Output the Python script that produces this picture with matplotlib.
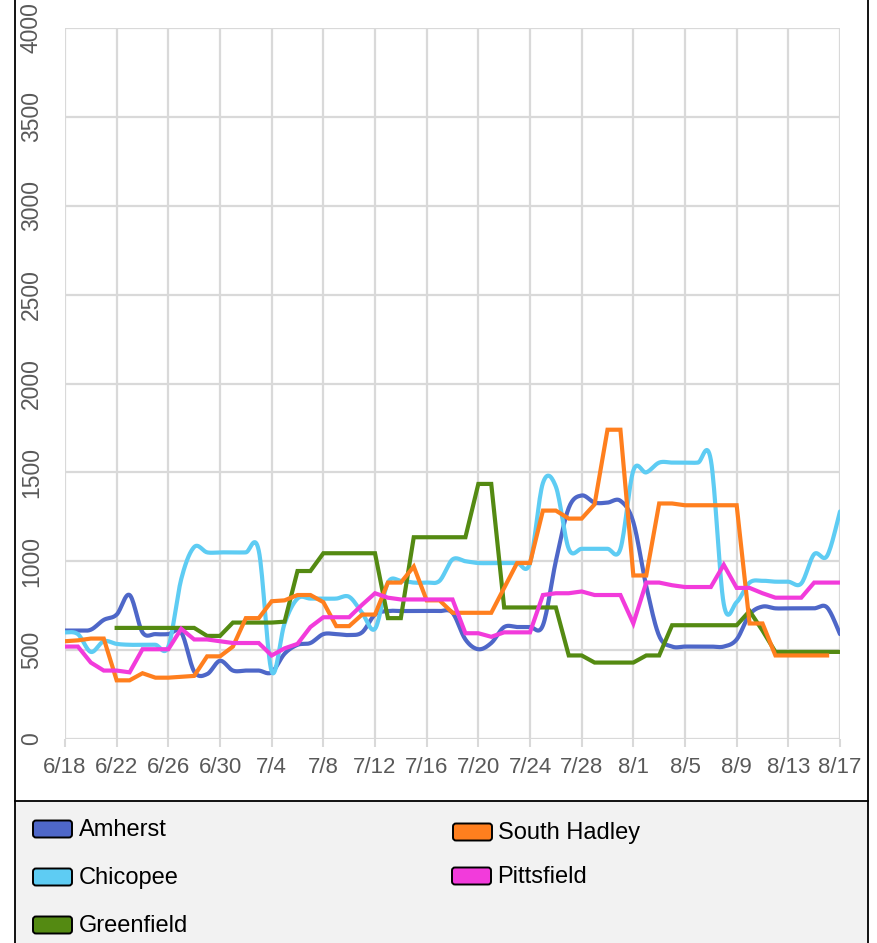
import numpy as np
import matplotlib.pyplot as plt
from matplotlib.patches import FancyBboxPatch, Rectangle
from matplotlib.lines import Line2D
from matplotlib.transforms import IdentityTransform

plt.rcParams['font.family'] = ['Liberation Sans', 'DejaVu Sans']

nan = np.nan
days = np.arange(61)  # 6/18 .. 8/17
tick_days = list(range(0, 61, 4))
tick_labels = ['6/18', '6/22', '6/26', '6/30', '7/4', '7/8', '7/12', '7/16',
               '7/20', '7/24', '7/28', '8/1', '8/5', '8/9', '8/13', '8/17']

amherst = [610, 610, 615, 670, 700, 810, 600, 590, 590, 600,
           380, 365, 440, 385, 385, 385, 375, 480, 530, 540,
           590, 590, 585, 600, 700, 720, 720, 720, 720, 720,
           710, 560, 505, 540, 630, 630, 630, 640, 1000, 1300,
           1370, 1330, 1330, 1340, 1220, 860, 580, 520, 520, 520,
           520, 520, 560, 700, 745, 735, 735, 735, 735, 740,
           590]
chicopee = [600, 590, 490, 550, 535, 530, 530, 530, 520, 900,
            1080, 1050, 1050, 1050, 1050, 1060, 380, 650, 790, 790,
            790, 790, 800, 710, 620, 880, 890, 880, 880, 890,
            1010, 1000, 990, 990, 990, 990, 990, 1440, 1420, 1070,
            1070, 1070, 1070, 1070, 1510, 1500, 1555, 1555, 1555, 1555,
            1570, 760, 770, 880, 890, 885, 885, 875, 1040, 1030,
            1280]
greenfield = ([nan] * 4 + [625] * 7 + [580] * 2 + [655, 655, 655, 655, 660]
              + [945] * 2 + [1045] * 5 + [680] * 2 + [1135] * 5 + [1435] * 2
              + [740] * 5 + [470] * 2 + [430] * 4 + [470] * 2 + [640] * 6
              + [720, 610] + [490] * 6)
south_hadley = [550, 555, 565, 565, 330, 330, 370, 345, 345, 350,
                355, 465, 465, 520, 680, 680, 775, 780, 810, 810,
                770, 635, 635, 700, 700, 880, 880, 970, 780, 780,
                710, 710, 710, 710, 850, 990, 990, 1285, 1285, 1240,
                1240, 1320, 1740, 1740, 920, 920, 1325, 1325, 1315, 1315,
                1315, 1315, 1315, 650, 650, 470, 470, 470, 470, 470,
                nan]
pittsfield = [520, 520, 430, 385, 385, 375, 505, 505, 505, 620,
              560, 560, 550, 540, 540, 540, 470, 510, 535, 630,
              685, 685, 685, 755, 820, 795, 785, 785, 785, 785,
              785, 595, 595, 575, 600, 600, 600, 810, 820, 820,
              830, 810, 810, 810, 650, 880, 880, 865, 855, 855,
              855, 980, 850, 850, 820, 795, 795, 795, 880, 880,
              880]

names = ['Amherst', 'Chicopee', 'Greenfield', 'South Hadley', 'Pittsfield']
colors = ['#4E67C8', '#5ECCF3', '#548A12', '#FF7F1E', '#F23BDB']
smooth_flags = [True, True, False, False, False]
series = [amherst, chicopee, greenfield, south_hadley, pittsfield]


def smooth(x, y, n=16):
    # Excel-like smoothed line: Catmull-Rom bezier between points
    x = np.asarray(x, float)
    y = np.asarray(y, float)
    xs, ys = [], []
    t = np.linspace(0, 1, n, endpoint=False)
    for i in range(len(x) - 1):
        i0, i3 = max(i - 1, 0), min(i + 2, len(x) - 1)
        p0, p1, p2, p3 = y[i0], y[i], y[i + 1], y[i3]
        q0, q1, q2, q3 = x[i0], x[i], x[i + 1], x[i3]
        c1, c2 = p1 + (p2 - p0) / 6, p2 - (p3 - p1) / 6
        d1, d2 = q1 + (q2 - q0) / 6, q2 - (q3 - q1) / 6
        b = [(1 - t) ** 3, 3 * (1 - t) ** 2 * t, 3 * (1 - t) * t ** 2, t ** 3]
        xs.append(b[0] * q1 + b[1] * d1 + b[2] * d2 + b[3] * q2)
        ys.append(b[0] * p1 + b[1] * c1 + b[2] * c2 + b[3] * p2)
    xs.append([x[-1]])
    ys.append([y[-1]])
    return np.concatenate(xs), np.concatenate(ys)


W, H = 877, 943
fig = plt.figure(figsize=(W / 100, H / 100), dpi=100)

# legend area background and frame
fig.patches.append(Rectangle((15 / W, 0), (868 - 15) / W, (H - 801) / H,
                             transform=fig.transFigure, facecolor='#f2f2f2',
                             edgecolor='none', zorder=0))
for xs_, ys_ in [([15.5 / W, 15.5 / W], [0, 1]), ([868 / W, 868 / W], [0, 1]),
                 ([15 / W, 868 / W], [1 - 801 / H, 1 - 801 / H])]:
    fig.lines.append(Line2D(xs_, ys_, transform=fig.transFigure,
                            color='black', lw=1.3))

ax = fig.add_axes([65 / W, 1 - 739 / H, 775 / W, 711 / H])

for vals, col, sm in zip(series, colors, smooth_flags):
    if sm:
        sx, sy = smooth(days, vals)
        ax.plot(sx, sy, color=col, lw=3.0, solid_capstyle='round')
    else:
        ax.plot(days, vals, color=col, lw=3.0, solid_joinstyle='miter')

ax.set_xlim(0, 60)
ax.set_ylim(0, 4000)
ax.set_xticks(tick_days)
ax.set_xticklabels(tick_labels)
ax.set_yticks(range(0, 4001, 500))
ax.grid(color='#d9d9d9', lw=1.6)
ax.set_axisbelow(True)
for s in ax.spines.values():
    s.set_visible(False)
ax.tick_params(axis='x', length=6, width=1.5, color='#d9d9d9', pad=7,
               labelsize=16, labelcolor='#595959')
ax.tick_params(axis='y', length=0, pad=16, labelsize=16.5, labelcolor='#595959')
for lab in ax.get_yticklabels():
    lab.set_rotation(90)
    lab.set_va('center')

# legend (drawn by hand to follow the original layout)
legend_pos = [(33, 829, 79), (33, 877, 79), (33, 925, 79),
              (453, 832, 498), (452, 876, 497)]
for (sx0, yc, tx), name, col in zip(legend_pos, names, colors):
    box = FancyBboxPatch((sx0, H - yc - 8.5), 39, 17,
                         boxstyle='round,pad=0,rounding_size=3',
                         transform=IdentityTransform(), facecolor=col,
                         edgecolor='black', lw=1.4)
    fig.patches.append(box)
    fig.text(tx / W, 1 - (yc + 1) / H, name, fontsize=17, va='center',
             color='black')

fig.savefig('out.png', dpi=100)
